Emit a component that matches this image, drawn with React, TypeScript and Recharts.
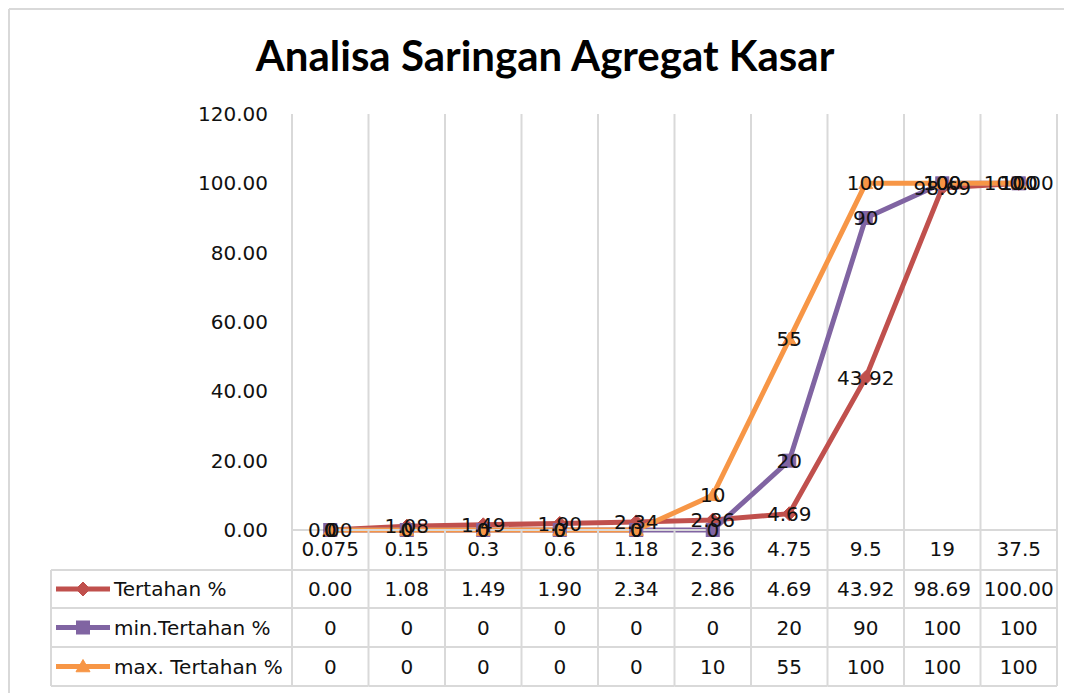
import React from "react";
import { LineChart, Line, XAxis, YAxis, CartesianGrid, LabelList } from "recharts";

// ---------- data ----------
const sieveSizes = ["0.075", "0.15", "0.3", "0.6", "1.18", "2.36", "4.75", "9.5", "19", "37.5"];
const tertahan = [0.0, 1.08, 1.49, 1.9, 2.34, 2.86, 4.69, 43.92, 98.69, 100.0];
const minTertahan = [0, 0, 0, 0, 0, 0, 20, 90, 100, 100];
const maxTertahan = [0, 0, 0, 0, 0, 10, 55, 100, 100, 100];
const yTicks = [0, 20, 40, 60, 80, 100, 120];
const titleText = "Analisa Saringan Agregat Kasar";

type Shape = "diamond" | "square" | "triangle";
const seriesDefs: { key: string; name: string; color: string; shape: Shape; values: number[]; fmt: (v: number) => string }[] = [
  { key: "tertahan", name: "Tertahan %", color: "#C0504D", shape: "diamond", values: tertahan, fmt: (v) => v.toFixed(2) },
  { key: "minT", name: "min.Tertahan %", color: "#8064A2", shape: "square", values: minTertahan, fmt: (v) => String(v) },
  { key: "maxT", name: "max. Tertahan %", color: "#F79646", shape: "triangle", values: maxTertahan, fmt: (v) => String(v) },
];

const data = sieveSizes.map((s, i) => {
  const row: Record<string, number | string> = { size: s };
  seriesDefs.forEach((sd) => (row[sd.key] = sd.values[i]));
  return row;
});

// ---------- layout ----------
const CHART_W = 1064;
const CHART_H = 685;
const MARGIN = { top: 106, right: 15, bottom: 0, left: 0 };
const Y_W = 284;
const PLOT_H = 416;
const X_H = CHART_H - MARGIN.top - PLOT_H;
const PLOT_W = CHART_W - MARGIN.left - MARGIN.right - Y_W;
const COL_W = PLOT_W / sieveSizes.length;
const PLOT_BOTTOM = MARGIN.top + PLOT_H;
const LABEL_Y = PLOT_BOTTOM + 19;
const ROW_LINES = [PLOT_BOTTOM + 40, PLOT_BOTTOM + 78, PLOT_BOTTOM + 117, PLOT_BOTTOM + 156];
const TABLE_LEFT = 43;
const KEY_X1 = 48;
const KEY_X2 = 102;
const KEY_TEXT_X = 106;

const FONT = "'DejaVu Sans', Verdana, sans-serif";
const GRID = "#D9D9D9";
const TEXT = "#111111";

function Marker({ shape, cx, cy, color, s = 7 }: { shape: Shape; cx: number; cy: number; color: string; s?: number }) {
  if (shape === "diamond") {
    return <path d={`M${cx},${cy - s} L${cx + s},${cy} L${cx},${cy + s} L${cx - s},${cy} Z`} fill={color} stroke={color} />;
  }
  if (shape === "square") {
    return <rect x={cx - s + 0.5} y={cy - s + 0.5} width={2 * s - 1} height={2 * s - 1} fill={color} stroke={color} />;
  }
  return <path d={`M${cx},${cy - s} L${cx + s},${cy + s * 0.75} L${cx - s},${cy + s * 0.75} Z`} fill={color} stroke={color} />;
}

function TableTick(props: any) {
  const { x, index } = props;
  const left = x - COL_W / 2;
  const right = x + COL_W / 2;
  const n = sieveSizes.length;
  const rowCenters = [0, 1, 2].map((r) => (ROW_LINES[r] + ROW_LINES[r + 1]) / 2);
  return (
    <g>
      <line x1={left} x2={left} y1={PLOT_BOTTOM} y2={ROW_LINES[3]} stroke={GRID} strokeWidth={2} />
      {index === n - 1 && <line x1={right} x2={right} y1={PLOT_BOTTOM} y2={ROW_LINES[3]} stroke={GRID} strokeWidth={2} />}
      {ROW_LINES.map((ly, k) => (
        <line key={k} x1={left} x2={right} y1={ly} y2={ly} stroke={GRID} strokeWidth={2} />
      ))}
      <text x={x} y={LABEL_Y} textAnchor="middle" dominantBaseline="central" fontFamily={FONT} fontSize={20} fill={TEXT}>
        {sieveSizes[index]}
      </text>
      {seriesDefs.map((sd, r) => (
        <text key={sd.key} x={x} y={rowCenters[r]} textAnchor="middle" dominantBaseline="central" fontFamily={FONT} fontSize={20} fill={TEXT}>
          {sd.fmt(sd.values[index])}
        </text>
      ))}
      {index === 0 && (
        <g>
          <line x1={TABLE_LEFT} x2={TABLE_LEFT} y1={ROW_LINES[0]} y2={ROW_LINES[3]} stroke={GRID} strokeWidth={2} />
          {ROW_LINES.map((ly, k) => (
            <line key={k} x1={TABLE_LEFT} x2={left} y1={ly} y2={ly} stroke={GRID} strokeWidth={2} />
          ))}
          {seriesDefs.map((sd, r) => (
            <g key={sd.key}>
              <line x1={KEY_X1} x2={KEY_X2} y1={rowCenters[r]} y2={rowCenters[r]} stroke={sd.color} strokeWidth={5} />
              <Marker shape={sd.shape} cx={(KEY_X1 + KEY_X2) / 2} cy={rowCenters[r]} color={sd.color} />
              <text x={KEY_TEXT_X} y={rowCenters[r]} textAnchor="start" dominantBaseline="central" fontFamily={FONT} fontSize={20} fill={TEXT}>
                {sd.name}
              </text>
            </g>
          ))}
        </g>
      )}
    </g>
  );
}

export default function App() {
  return (
    <div style={{ position: "relative", width: CHART_W, height: CHART_H }}>
      <LineChart width={CHART_W} height={CHART_H} data={data} margin={MARGIN}>
        <CartesianGrid
          horizontal={false}
          vertical
          stroke={GRID}
          strokeWidth={2}
          verticalCoordinatesGenerator={({ offset }: any) =>
            Array.from({ length: sieveSizes.length + 1 }, (_, i) => offset.left + (i * offset.width) / sieveSizes.length)
          }
        />
        <XAxis
          dataKey="size"
          type="category"
          height={X_H}
          interval={0}
          padding={{ left: COL_W / 2, right: COL_W / 2 }}
          axisLine={{ stroke: GRID, strokeWidth: 2 }}
          tickLine={false}
          tick={<TableTick />}
        />
        <YAxis
          width={Y_W}
          domain={[0, 120]}
          ticks={yTicks}
          type="number"
          axisLine={false}
          tickLine={false}
          tickSize={0}
          tickMargin={24}
          tickFormatter={(v: number) => v.toFixed(2)}
          tick={{ fontFamily: FONT, fontSize: 20, fill: TEXT }}
        />
        {seriesDefs.map((sd) => (
          <Line
            key={sd.key}
            dataKey={sd.key}
            name={sd.name}
            type="linear"
            stroke={sd.color}
            strokeWidth={5}
            isAnimationActive={false}
            activeDot={false}
            dot={(p: any) => <Marker key={`${sd.key}-${p.index}`} shape={sd.shape} cx={p.cx} cy={p.cy} color={sd.color} />}
          >
            <LabelList
              dataKey={sd.key}
              position="center"
              formatter={(v: any) => sd.fmt(Number(v))}
              style={{ fontFamily: FONT, fontSize: 20, fill: TEXT }}
            />
          </Line>
        ))}
      </LineChart>
      <svg
        width={CHART_W}
        height={CHART_H}
        style={{ position: "absolute", left: 0, top: 0, pointerEvents: "none" }}
      >
        <line x1={1} x2={1} y1={1} y2={CHART_H} stroke={GRID} strokeWidth={2} />
        <line x1={1} x2={CHART_W} y1={1} y2={1} stroke={GRID} strokeWidth={2} />
        <text x={537} y={63} textAnchor="middle" fontFamily="Lato, 'Liberation Sans', sans-serif" fontWeight={700} fontSize={42} fill="#000">
          {titleText}
        </text>
      </svg>
    </div>
  );
}
